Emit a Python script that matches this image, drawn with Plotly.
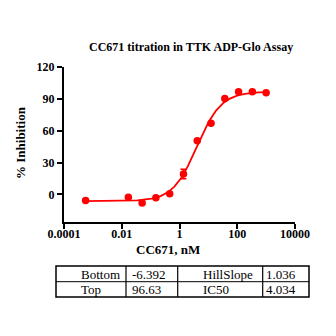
import numpy as np
import plotly.graph_objects as go

# ---- data ----
conc_nM = [0.00056, 0.0169, 0.0508, 0.152, 0.457, 1.372, 4.115, 12.35, 37.04, 111.1, 333.3, 1000]
inhibition = [-5.7, -2.6, -8.0, -3.1, 0.7, 19.2, 50.5, 67.0, 90.3, 96.6, 96.6, 95.7]
inhibition_err = [0, 0, 0, 0, 0, 4.4, 0, 0, 0, 0, 0, 0]

fit_names = ["Bottom", "Top", "HillSlope", "IC50"]
fit_values = [-6.392, 96.63, 1.036, 4.034]
fit_labels = ["-6.392", "96.63", "1.036", "4.034"]

x_tickvals = [1e-4, 1e-2, 1, 100, 1e4]
x_ticktext = ["0.0001", "0.01", "1", "100", "10000"]
y_tickvals = [0, 30, 60, 90, 120]
y_ticktext = ["0", "30", "60", "90", "120"]

bottom, top, hill, ic50 = fit_values
xc = np.logspace(np.log10(min(conc_nM)), np.log10(max(conc_nM)), 300)
yc = bottom + (top - bottom) / (1 + (ic50 / xc) ** hill)

RED = "#FF0000"
SERIF = "Liberation Serif, Times New Roman, serif"

fig = go.Figure()
fig.add_trace(go.Scatter(x=xc, y=yc, mode="lines", line=dict(color=RED, width=1.8),
                         hoverinfo="skip", showlegend=False))
fig.add_trace(go.Scatter(x=conc_nM, y=inhibition, mode="markers",
                         marker=dict(color=RED, size=7.5),
                         error_y=dict(type="data", array=inhibition_err, color=RED,
                                      thickness=1.5, width=3),
                         showlegend=False))

W = H = 336
L, R, T, B = 64, 41, 67, 114
PW = W - L - R
PH = H - T - B

fig.update_layout(
    width=W, height=H,
    margin=dict(l=L, r=R, t=T, b=B),
    paper_bgcolor="white", plot_bgcolor="white",
    font=dict(family=SERIF, color="black", size=12),
    xaxis=dict(type="log", range=[-4, 4], tickvals=x_tickvals,
               ticktext=["<b>%s</b>" % t for t in x_ticktext],
               showgrid=False, zeroline=False, showline=True, linecolor="black",
               linewidth=2, ticks="outside", ticklen=5, tickwidth=2, tickcolor="black",
               ticklabelstandoff=-5,
               tickfont=dict(family=SERIF, size=12, color="black")),
    yaxis=dict(range=[-26, 120], tickvals=y_tickvals,
               ticktext=["<b>%s</b>" % t for t in y_ticktext],
               showgrid=False, zeroline=False, showline=True, linecolor="black",
               linewidth=2, ticks="outside", ticklen=5, tickwidth=2, tickcolor="black",
               tickfont=dict(family=SERIF, size=12, color="black")),
)

def px_x(p):
    return (p - L) / PW

def px_y(p):
    return (H - B - p) / PH

ann = []
ann.append(dict(text="<b>CC671 titration in TTK ADP-Glo Assay</b>", x=px_x(191), y=px_y(47),
                xref="paper", yref="paper", showarrow=False, xanchor="center", yanchor="middle",
                font=dict(family=SERIF, size=12, color="black")))
ann.append(dict(text="<b>% Inhibition</b>", x=px_x(20), y=px_y(143), textangle=-90,
                xref="paper", yref="paper", showarrow=False, xanchor="center", yanchor="middle",
                font=dict(family=SERIF, size=13, color="black")))
ann.append(dict(text="<b>CC671, nM</b>", x=px_x(168), y=px_y(249.5),
                xref="paper", yref="paper", showarrow=False, xanchor="center", yanchor="middle",
                font=dict(family=SERIF, size=13, color="black")))

# table
tx0, tx1 = 56, 309
ty0, ty1, tymid = 266, 297, 281.7
cols = [126, 177.7, 262.7]
shapes = [dict(type="rect", xref="paper", yref="paper", x0=px_x(tx0), x1=px_x(tx1),
               y0=px_y(ty1), y1=px_y(ty0), line=dict(color="black", width=1.5))]
shapes.append(dict(type="line", xref="paper", yref="paper", x0=px_x(tx0), x1=px_x(tx1),
                   y0=px_y(tymid), y1=px_y(tymid), line=dict(color="black", width=1)))
for c in cols:
    shapes.append(dict(type="line", xref="paper", yref="paper", x0=px_x(c), x1=px_x(c),
                       y0=px_y(ty0), y1=px_y(ty1), line=dict(color="black", width=1.2)))

cells = [
    (fit_names[0], 79, 274), (fit_labels[0], 130, 274), (fit_names[2], 201, 274), (fit_labels[2], 264, 274),
    (fit_names[1], 79, 289.5), (fit_labels[1], 130, 289.5), (fit_names[3], 201, 289.5), (fit_labels[3], 264, 289.5),
]
for txt, x, y in cells:
    ann.append(dict(text=txt, x=px_x(x), y=px_y(y), xref="paper", yref="paper", showarrow=False,
                    xanchor="left", yanchor="middle",
                    font=dict(family=SERIF, size=13, color="black")))

fig.update_layout(annotations=ann, shapes=shapes)
fig.write_html("out.html")
